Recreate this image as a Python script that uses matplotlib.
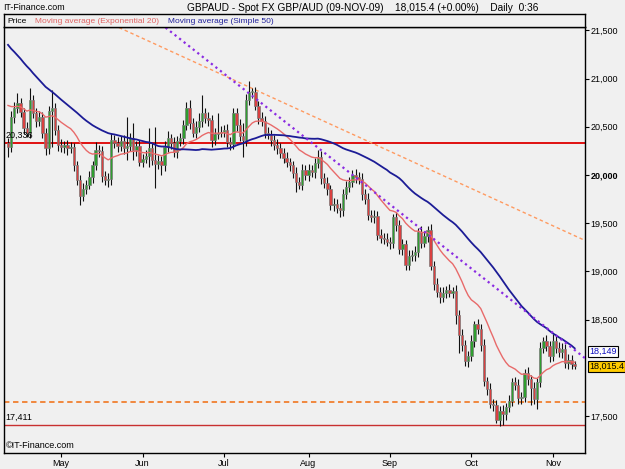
import numpy as np
import pandas as pd
import matplotlib
matplotlib.use("Agg")
import matplotlib.pyplot as plt

plt.rcParams['font.family'] = ['Liberation Sans', 'DejaVu Sans']

# ---------------- data ----------------
# closes before the visible window (only feed the moving averages)
hist_closes = [22600, 22600, 22350, 22550, 22400, 22500, 22300, 22450, 22600, 22350,
               22360, 22200, 22050, 21900, 21950, 21800, 21750, 21700, 21650, 21690,
               21550, 21400, 21350, 21250, 21300, 21200, 21150, 21250, 21200, 21120,
               20850, 20700, 20650, 20750, 20600, 20700, 20800, 20650, 20700, 20750,
               20660, 20500, 20600, 20550, 20650, 20500, 20600, 20900, 20850, 20330]

# daily closes, 12-Apr-2009 .. 09-Nov-2009 (feed has Sunday bars, no Saturday bars)
closes = [20290, 20600, 20700, 20750, 20650, 20490, 20440, 20780, 20640, 20560,
          20600, 20440, 20280, 20660, 20700, 20470, 20310, 20290, 20310, 20280,
          20290, 20100, 19950, 19780, 19860, 19900, 19980, 20100, 20260, 20250,
          19990, 19950, 19960, 20360, 20330, 20300, 20350, 20280, 20300, 20380,
          20260, 20300, 20140, 20170, 20200, 20280, 20160, 20110, 20150, 20100,
          20290, 20380, 20330, 20240, 20350, 20380, 20520, 20700, 20540, 20440,
          20500, 20560, 20640, 20590, 20570, 20360, 20430, 20440, 20450, 20470,
          20340, 20320, 20640, 20520, 20400, 20360, 20780, 20860, 20860, 20720,
          20590, 20560, 20440, 20420, 20360, 20310, 20280, 20230, 20180, 20130,
          20100, 20020, 19930, 19900, 20050, 20000, 20050, 20030, 20120, 20190,
          19970, 19920, 19850, 19690, 19700, 19660, 19640, 19800, 19880, 19930,
          20000, 19980, 19960, 19800, 19750, 19590, 19560, 19580, 19380, 19350,
          19340, 19310, 19290, 19560, 19480, 19230, 19280, 19070, 19160, 19170,
          19200, 19410, 19300, 19370, 19430, 19060, 18870, 18790, 18730, 18780,
          18810, 18780, 18800, 18550, 18340, 18240, 18070, 18120, 18280, 18450,
          18400, 18240, 17860, 17780, 17630, 17610, 17460, 17550, 17520, 17590,
          17660, 17850, 17820, 17690, 17700, 17950, 17880, 17790, 17680, 17850,
          18210, 18280, 18230, 18120, 18280, 18210, 18160, 18200, 18050, 18080,
          18040, 18015.4]

wick_up = [50, 60, 60, 100, 50, 50, 60, 120, 50, 60,
           60, 50, 50, 60, 180, 50, 50, 60, 40, 50,
           50, 40, 50, 50, 60, 50, 60, 50, 80, 50,
           50, 50, 60, 80, 50, 60, 50, 60, 300, 60,
           160, 50, 60, 50, 60, 210, 50, 340, 60, 50,
           60, 80, 50, 60, 50, 60, 50, 60, 80, 50,
           60, 80, 190, 50, 60, 50, 60, 200, 60, 50,
           60, 50, 60, 50, 60, 140, 60, 120, 40, 50,
           50, 60, 50, 60, 50, 50, 60, 50, 50, 60,
           50, 50, 60, 50, 60, 50, 60, 50, 60, 70,
           60, 50, 60, 50, 60, 50, 50, 60, 60, 50,
           50, 60, 50, 60, 50, 60, 50, 60, 50, 60,
           50, 60, 50, 40, 60, 50, 60, 50, 60, 50,
           60, 40, 60, 50, 40, 60, 50, 60, 50, 60,
           40, 60, 40, 60, 50, 60, 50, 60, 60, 40,
           60, 50, 60, 50, 60, 50, 60, 50, 60, 50,
           60, 50, 60, 60, 50, 40, 60, 50, 60, 50,
           60, 40, 60, 50, 75, 50, 60, 60, 50, 60,
           50, 30]

wick_dn = [100, 50, 60, 60, 50, 60, 50, 60, 50, 60,
           50, 60, 70, 60, 370, 50, 60, 50, 60, 70,
           50, 60, 50, 90, 50, 60, 50, 60, 50, 60,
           60, 50, 70, 60, 50, 60, 50, 60, 120, 50,
           100, 60, 50, 60, 50, 120, 60, 245, 50, 100,
           60, 50, 60, 50, 60, 50, 60, 50, 60, 50,
           60, 50, 60, 50, 60, 70, 50, 60, 50, 60,
           50, 60, 50, 60, 50, 170, 60, 50, 60, 50,
           60, 50, 60, 50, 60, 50, 60, 50, 60, 50,
           60, 50, 110, 50, 60, 50, 60, 50, 60, 50,
           60, 50, 60, 50, 60, 50, 75, 60, 50, 60,
           50, 60, 50, 60, 50, 60, 50, 60, 50, 50,
           60, 50, 60, 50, 60, 50, 60, 50, 60, 50,
           60, 50, 60, 50, 60, 50, 60, 50, 60, 50,
           60, 50, 60, 100, 190, 60, 50, 60, 50, 60,
           50, 60, 50, 60, 50, 60, 30, 60, 109, 60,
           50, 60, 50, 70, 60, 50, 60, 180, 50, 110,
           50, 60, 50, 60, 50, 60, 50, 60, 50, 60,
           50, 30]

start_date = "2009-04-12"
end_date = "2009-11-09"
month_labels = ["May", "Jun", "Jul", "Aug", "Sep", "Oct", "Nov"]
price_ticks = [17500, 18500, 19000, 19500, 20000, 20500, 21000, 21500]
level_high = 20336
level_low = 17411
level_support = 17645
# trendline anchors: (bar index, price)
trend_orange = [(35.8, 21524), (184.0, 19326)]
trend_purple = [(50.2, 21532), (183.7, 18116)]
last_price = 18015.4
sma_last_label = 18149

# ---------------- derived ----------------
days = pd.date_range(start_date, end_date)
dates = days[days.weekday != 5]
n = len(closes)
dates = dates[:n]
all_c = pd.Series(hist_closes + closes)
ema20 = all_c.ewm(span=20, adjust=False).mean().values[len(hist_closes):]
sma50 = all_c.rolling(50).mean().values[len(hist_closes):]

c = np.array(closes, dtype=float)
o = np.concatenate([[hist_closes[-1]], c[:-1]])
hi = np.maximum(o, c) + np.array(wick_up)
lo = np.minimum(o, c) - np.array(wick_dn)
x = np.arange(n)

# ---------------- figure ----------------
W, H = 625, 469
fig = plt.figure(figsize=(W / 100, H / 100), dpi=100, facecolor="#f0f0f0")
L, R, T, B = 4, 585, 27, 453
ax = fig.add_axes([L / W, 1 - B / H, (R - L) / W, (B - T) / H], facecolor="#f0f0f0")
axh = fig.add_axes([L / W, 1 - T / H, (R - L) / W, 13 / H], facecolor="#f0f0f0")

ax.set_xlim(-1.28, 184.3)
ax.set_ylim(17117, 21535)

# candles
up = c >= o
ax.vlines(x, lo, hi, color="#111111", lw=0.8, zorder=3)
body_bot = np.minimum(o, c)
body_h = np.maximum(np.abs(c - o), 8)
ax.bar(x[up], body_h[up], bottom=body_bot[up], width=0.75, color="#2f9e2f",
       edgecolor="#7a7a7a", lw=0.5, zorder=4)
ax.bar(x[~up], body_h[~up], bottom=body_bot[~up], width=0.75, color="#d94040",
       edgecolor="#7a7a7a", lw=0.5, zorder=4)

# moving averages
ax.plot(x, ema20, color="#e86a6a", lw=1.0, zorder=5)
ax.plot(x, sma50, color="#1c1c96", lw=1.3, zorder=5)

# levels
ax.axhline(level_high, color="#e01010", lw=1.4, zorder=2)
ax.axhline(level_low, color="#c83030", lw=1.0, zorder=2)
ax.axhline(level_support, color="#f08030", lw=1.3, ls=(0, (3, 2)), zorder=2)

# trend lines
def line_pts(p):
    (x0, y0), (x1, y1) = p
    s = (y1 - y0) / (x1 - x0)
    xs = np.array([-2.0, 186.0])
    return xs, y0 + s * (xs - x0)

xs, ys = line_pts(trend_orange)
ax.plot(xs, ys, color="#ff9a60", lw=1.0, ls=(0, (2.5, 2)), zorder=2)
xs, ys = line_pts(trend_purple)
ax.plot(xs, ys, color="#8a2be2", lw=1.6, ls=(0, (1, 1.6)), zorder=6)

# axes styling
for s in ax.spines.values():
    s.set_color("black"); s.set_linewidth(1.0)
ax.yaxis.tick_right()
ax.set_yticks(price_ticks)
ax.set_yticklabels([f"{v:,}" for v in price_ticks])
ax.tick_params(axis="y", direction="out", length=3, labelsize=6.5, pad=1, width=0.8)
for lab in ax.get_yticklabels():
    if lab.get_text() == "20,000":
        lab.set_fontweight("bold")

month_idx = []
seen = set()
for i, d in enumerate(dates):
    key = (d.year, d.month)
    if key not in seen:
        seen.add(key)
        if d.month >= 5:
            month_idx.append(i)
ax.set_xticks(month_idx)
ax.set_xticklabels(month_labels[:len(month_idx)])
ax.tick_params(axis="x", direction="out", length=3, labelsize=6.5, pad=1, width=0.8)

# labels on plot
ax.text(0.003, level_high + 25, f"{level_high:,}", fontsize=6.5, ha="left", va="bottom",
        transform=ax.get_yaxis_transform(), zorder=7)
ax.text(0.003, level_low + 25, f"{level_low:,}", fontsize=6.5, ha="left", va="bottom",
        transform=ax.get_yaxis_transform(), zorder=7)
ax.text(0.003, 0.008, "\u00a9IT-Finance.com", fontsize=6.5, ha="left", va="bottom",
        transform=ax.transAxes, zorder=7)

# right-hand value boxes
ax.text(1.007, sma_last_label + 20, f"{sma_last_label:,}", fontsize=6.5, color="#1010c0",
        ha="left", va="center", transform=ax.get_yaxis_transform(), clip_on=False,
        bbox=dict(boxstyle="square,pad=0.12", fc="white", ec="black", lw=0.8), zorder=8)
ax.text(1.007, last_price, f"{last_price:,.1f}", fontsize=6.5, color="black",
        ha="left", va="center", transform=ax.get_yaxis_transform(), clip_on=False,
        bbox=dict(boxstyle="square,pad=0.12", fc="#ffcc00", ec="black", lw=0.8), zorder=9)

# header strip (legend)
axh.set_xlim(0, R - L); axh.set_ylim(0, 1)
axh.set_xticks([]); axh.set_yticks([])
for s in axh.spines.values():
    s.set_color("black"); s.set_linewidth(1.0)
axh.text(3, 0.45, "Price", fontsize=6, color="black", va="center")
axh.text(31, 0.45, "Moving average (Exponential 20)", fontsize=6, color="#e06464", va="center")
axh.text(164, 0.45, "Moving average (Simple 50)", fontsize=6, color="#20209a", va="center")

# title row
fig.text(3 / W, 1 - 8 / H, "IT-Finance.com", fontsize=6.4, ha="left", va="center")
fig.text(187 / W, 1 - 8 / H,
         "GBPAUD - Spot FX GBP/AUD (09-NOV-09)    18,015.4 (+0.00%)    Daily  0:36",
         fontsize=7.3, ha="left", va="center")

fig.savefig("out.png", dpi=100, facecolor=fig.get_facecolor())
